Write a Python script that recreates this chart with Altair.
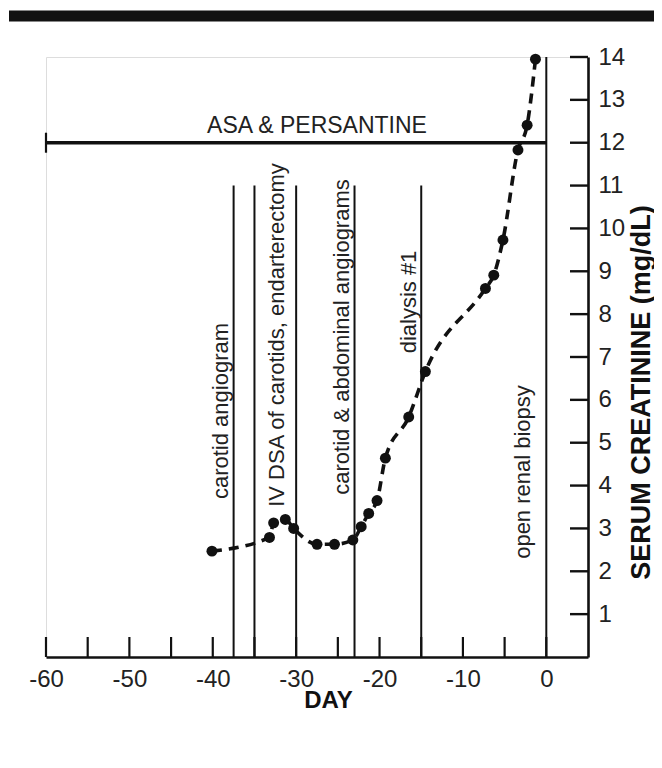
import altair as alt
import pandas as pd

# ---- data ----
days = [-40.1, -33.2, -32.7, -31.3, -30.3, -27.5, -25.4, -23.2, -22.2, -21.3,
        -20.3, -19.3, -16.5, -14.5, -7.3, -6.3, -5.2, -3.4, -2.3, -1.3]
creatinine = [2.47, 2.79, 3.13, 3.21, 3.00, 2.63, 2.63, 2.73, 3.04, 3.35,
              3.65, 4.64, 5.60, 6.66, 8.60, 8.91, 9.73, 11.83, 12.41, 13.95]

event_days = [-37.5, -35, -30, -23, -15]
event_top = 11
biopsy_day = 0
biopsy_top = 14

event_labels = ["carotid angiogram", "IV DSA of carotids, endarterectomy",
                "carotid & abdominal angiograms", "dialysis #1", "open renal biopsy"]
label_days = [-37.5, -30, -23, -15, 0]

asa_label = "ASA & PERSANTINE"
asa_start, asa_end, asa_level = -60, 0, 12

x_tick_days = list(range(-60, 1, 5))
x_label_values = list(range(-60, 1, 10))
y_values = list(range(1, 15))
x_min, x_max = -60, 5
y_min, y_max = 0, 14

# ---- layout / style ----
W, H = 542, 600
PAD = {"left": 38, "top": 49, "right": 66, "bottom": 94}
FONT = "Liberation Sans"
INK = "#111111"
TXT = "#222222"
label_style = [  # (centre y in px within plot, offset of baseline from the line)
    (354, -6), (278, -12), (280, -6), (245, -5), (415, -16)]

x_scale = alt.Scale(domain=[x_min, x_max], nice=False, zero=False)
y_scale = alt.Scale(domain=[y_min, y_max], nice=False, zero=False)

x_axis = alt.Axis(values=x_label_values, ticks=False, grid=False, domainColor=INK,
                  domainWidth=2.6, labelFont=FONT, labelFontSize=24, labelColor=TXT,
                  labelPadding=10, labelFlush=False, labelOverlap=False,
                  labelExpr="'' + datum.value",
                  title="DAY", titleFont=FONT, titleFontSize=24, titleFontWeight="bold",
                  titleColor=INK, titleX=282, titleY=43, titleAlign="center",
                  titleBaseline="middle")
y_axis = alt.Axis(orient="right", values=y_values, ticks=False, grid=False,
                  domainColor=INK, domainWidth=2.6, labelFont=FONT, labelFontSize=24,
                  labelColor=TXT, labelPadding=10, labelFlush=False, labelOverlap=False,
                  title="SERUM CREATININE (mg/dL)", titleFont=FONT, titleFontSize=27,
                  titleFontWeight="bold", titleColor=INK, titleAngle=270, titleX=53,
                  titleY=335, titleAlign="center", titleBaseline="middle")

X = alt.X("day:Q", scale=x_scale, axis=x_axis)
Y = alt.Y("value:Q", scale=y_scale, axis=y_axis)

pts = pd.DataFrame({"day": days, "value": creatinine})

curve = alt.Chart(pts).mark_line(interpolate="monotone", strokeDash=[10, 7],
                                  strokeWidth=3.6, color=INK).encode(x=X, y=Y)
dots = alt.Chart(pts).mark_circle(size=120, opacity=1, color=INK).encode(x=X, y=Y)

ev = pd.DataFrame({"day": event_days, "value": [0] * len(event_days),
                   "value2": [event_top] * len(event_days)})
ev_rules = alt.Chart(ev).mark_rule(strokeWidth=2, color=INK).encode(
    x=X, y=Y, y2=alt.Y2("value2:Q"))

bx = pd.DataFrame({"day": [biopsy_day], "value": [0], "value2": [biopsy_top]})
bx_rule = alt.Chart(bx).mark_rule(strokeWidth=2, color=INK).encode(
    x=X, y=Y, y2=alt.Y2("value2:Q"))

asa = pd.DataFrame({"day": [asa_start], "day2": [asa_end], "value": [asa_level]})
asa_rule = alt.Chart(asa).mark_rule(strokeWidth=3.6, color=INK).encode(
    x=X, x2=alt.X2("day2:Q"), y=Y)
asa_cap = alt.Chart(asa).mark_rule(strokeWidth=2.2, color=INK, yOffset=-10,
                                   y2Offset=10).encode(x=X, y=Y, y2=alt.Y2("value:Q"))
asa_text = alt.Chart(pd.DataFrame({"day": [asa_start], "value": [asa_level],
                                   "t": [asa_label]})).mark_text(
    font=FONT, fontSize=23, color=TXT, align="center", baseline="alphabetic", dy=-10
).encode(x=alt.value(W / 2), y=Y, text="t:N")

xt = pd.DataFrame({"day": x_tick_days, "value": [y_min] * len(x_tick_days)})
x_ticks = alt.Chart(xt).mark_rule(strokeWidth=2.2, color=INK, y2Offset=-20).encode(
    x=X, y=Y, y2=alt.Y2("value:Q"))

yt = pd.DataFrame({"day": [x_max] * len(y_values), "value": y_values})
y_ticks = alt.Chart(yt).mark_rule(strokeWidth=2.4, color=INK, xOffset=-18).encode(
    x=X, x2=alt.X2("day:Q"), y=Y)

label_layers = []
for lab, d, (cy, off) in zip(event_labels, label_days, label_style):
    df = pd.DataFrame({"day": [d], "t": [lab]})
    label_layers.append(
        alt.Chart(df).mark_text(font=FONT, fontSize=22, color=TXT, angle=270,
                                align="center", baseline="alphabetic", dy=off)
        .encode(x=X, y=alt.value(cy), text="t:N"))

top_bar = alt.Chart(pd.DataFrame({"day": [0]})).mark_rule(
    strokeWidth=11, color=INK).encode(x=alt.value(-37), x2=alt.value(W + PAD["right"]),
                                       y=alt.value(-41))

chart = alt.layer(
    top_bar, ev_rules, bx_rule, x_ticks, y_ticks, asa_rule, asa_cap,
    asa_text, *label_layers, curve, dots
).properties(
    width=W, height=H,
    autosize=alt.AutoSizeParams(type="none"),
    padding=PAD,
).configure_view(stroke=None).configure(background="white")

chart.save("out.html", embed_options={"renderer": "svg", "actions": False})
